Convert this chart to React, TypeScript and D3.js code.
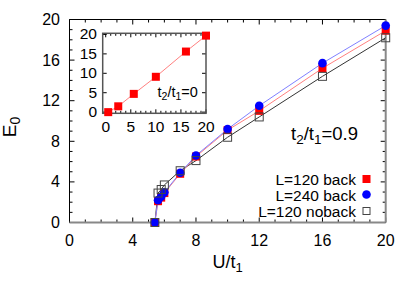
import React from 'react';
import * as d3 from 'd3';

// main panel: E_0 vs U/t1 for t2/t1 = 0.9
const uValues = [5.4, 5.6, 5.8, 6.0, 7.0, 8.0, 10, 12, 16, 20];
const e120back = [0, 2.1, 2.45, 2.9, 4.8, 6.5, 9.1, 11.0, 15.2, 18.9];
const e240back = [0, 2.2, 2.55, 2.97, 4.9, 6.6, 9.2, 11.5, 15.7, 19.4];
const e120noback = [0, 2.9, 3.25, 3.7, 5.1, 6.1, 8.4, 10.4, 14.4, 18.2];

// inset: t2/t1 = 0
const insetU = [0.5, 2.5, 5.6, 10, 16, 20];
const insetE = [0, 1.5, 4.7, 9.1, 15.6, 19.7];

const mainTicks = [0, 4, 8, 12, 16, 20];
const insetTicks = [0, 5, 10, 15, 20];

const font = '"Liberation Sans", Arial, Helvetica, sans-serif';

export default function App() {
  const x = d3.scaleLinear().domain([0, 20]).range([69.5, 385.7]);
  const y = d3.scaleLinear().domain([0, 20]).range([222.5, 19.5]);
  const ix = d3.scaleLinear().domain([-0.6, 20]).range([102.7, 206]);
  const iy = d3.scaleLinear().domain([-0.3, 20.3]).range([113.3, 33.3]);

  const toPts = (ys: number[]) => uValues.map((u, i) => [u, ys[i]] as [number, number]);
  const line = d3.line<[number, number]>().x(d => x(d[0])).y(d => y(d[1]));
  const insetLine = d3.line<[number, number]>().x(d => ix(d[0])).y(d => iy(d[1]));
  const insetPts = insetU.map((u, i) => [u, insetE[i]] as [number, number]);

  const minorMain = d3.range(0, 21, 1);
  const minorInsetX = d3.range(0, 21, 1);

  const [x0, x1] = x.range();
  const [y0, y1] = y.range();
  const [ix0, ix1] = ix.range();
  const [iy0, iy1] = iy.range();

  const s = 8; // marker size

  return (
    <svg width={415} height={291} style={{ position: 'absolute', left: 0, top: 0, background: '#fff' }}
      fontFamily={font}>
      {/* main ticks */}
      {minorMain.map(v => {
        const len = v % 4 === 0 ? 5 : 3;
        return (
          <g key={'t' + v} stroke="#000" strokeWidth={1}>
            <line x1={x(v)} x2={x(v)} y1={y0} y2={y0 - len} />
            <line x1={x(v)} x2={x(v)} y1={y1} y2={y1 + len} />
            <line x1={x0} x2={x0 + len} y1={y(v)} y2={y(v)} />
            <line x1={x1} x2={x1 - len} y1={y(v)} y2={y(v)} />
          </g>
        );
      })}
      {/* main frame */}
      <line x1={x0} x2={x1} y1={y1} y2={y1} stroke="#000" strokeWidth={1} />
      <line x1={x0} x2={x0} y1={y1} y2={y0} stroke="#000" strokeWidth={1} />
      <line x1={x0} x2={x1} y1={y0} y2={y0} stroke="#888" strokeWidth={2} />
      <line x1={x1} x2={x1} y1={y1} y2={y0} stroke="#888" strokeWidth={2} />

      {mainTicks.map(v => (
        <text key={'xl' + v} x={x(v)} y={245.5} fontSize={16} textAnchor="middle">{v}</text>
      ))}
      {mainTicks.map(v => (
        <text key={'yl' + v} x={60} y={y(v) + 5.5} fontSize={16} textAnchor="end">{v}</text>
      ))}

      {/* axis titles */}
      <text x={227.6} y={268} fontSize={18} textAnchor="middle">
        U/t<tspan fontSize={13} dy={4}>1</tspan>
      </text>
      <text transform="translate(16,127) rotate(-90)" fontSize={19} textAnchor="middle">
        E<tspan fontSize={14} dy={4}>0</tspan>
      </text>
      <text x={291} y={139.5} fontSize={18.5}>
        t<tspan fontSize={13.5} dy={4}>2</tspan><tspan dy={-4}>/t</tspan><tspan fontSize={13.5} dy={4}>1</tspan><tspan dy={-4}>=0.9</tspan>
      </text>

      {/* series lines */}
      <path d={line(toPts(e120noback)) ?? ''} fill="none" stroke="#333" strokeWidth={1} />
      <path d={line(toPts(e120back)) ?? ''} fill="none" stroke="#ff8080" strokeWidth={1} />
      <path d={line(toPts(e240back)) ?? ''} fill="none" stroke="#8080ff" strokeWidth={1} />

      {/* markers */}
      {toPts(e120back).map(([u, e], i) => (
        <rect key={'r' + i} x={x(u) - s / 2} y={y(e) - s / 2} width={s} height={s} fill="#ff0000" />
      ))}
      {toPts(e240back).map(([u, e], i) => (
        <circle key={'b' + i} cx={x(u)} cy={y(e)} r={4.3} fill="#0000ff" />
      ))}
      {toPts(e120noback).map(([u, e], i) => (
        <rect key={'k' + i} x={x(u) - s / 2} y={y(e) - s / 2} width={s} height={s} fill="none" stroke="#444" strokeWidth={1} />
      ))}

      {/* legend */}
      <g fontSize={15.5} textAnchor="end">
        <text x={356} y={184.5}>L=120 back</text>
        <rect x={362.5} y={175} width={8} height={8} fill="#ff0000" />
        <text x={356} y={200.5}>L=240 back</text>
        <circle cx={366.5} cy={194.5} r={4.3} fill="#0000ff" />
        <text x={356} y={216.5}>L=120 noback</text>
        <rect x={363} y={207.5} width={7} height={7} fill="none" stroke="#444" strokeWidth={1} />
      </g>

      {/* inset */}
      <rect x={ix0} y={iy1} width={ix1 - ix0} height={iy0 - iy1} fill="#fff" />
      {minorInsetX.map(v => {
        const len = v % 5 === 0 ? 4 : 2.5;
        return (
          <g key={'it' + v} stroke="#000" strokeWidth={1}>
            <line x1={ix(v)} x2={ix(v)} y1={iy0} y2={iy0 - len} />
            <line x1={ix(v)} x2={ix(v)} y1={iy1} y2={iy1 + len} />
          </g>
        );
      })}
      {insetTicks.map(v => (
        <g key={'iy' + v} stroke="#000" strokeWidth={1}>
          <line x1={ix0} x2={ix0 + 4} y1={iy(v)} y2={iy(v)} />
          <line x1={ix1} x2={ix1 - 4} y1={iy(v)} y2={iy(v)} />
        </g>
      ))}
      <rect x={ix0} y={iy1} width={ix1 - ix0} height={iy0 - iy1} fill="none" stroke="#555" strokeWidth={1.5} />
      {insetTicks.map(v => (
        <text key={'ixl' + v} x={ix(v)} y={132} fontSize={15.5} textAnchor="middle">{v}</text>
      ))}
      {insetTicks.map(v => (
        <text key={'iyl' + v} x={97} y={iy(v) + 5} fontSize={15.5} textAnchor="end">{v}</text>
      ))}
      <text x={157.5} y={97} fontSize={14.5}>
        t<tspan fontSize={10.5} dy={3}>2</tspan><tspan dy={-3}>/t</tspan><tspan fontSize={10.5} dy={3}>1</tspan><tspan dy={-3}>=0</tspan>
      </text>
      <path d={insetLine(insetPts) ?? ''} fill="none" stroke="#ff8080" strokeWidth={1} />
      {insetPts.map(([u, e], i) => (
        <rect key={'ir' + i} x={ix(u) - s / 2} y={iy(e) - s / 2} width={s} height={s} fill="#ff0000" />
      ))}
    </svg>
  );
}
